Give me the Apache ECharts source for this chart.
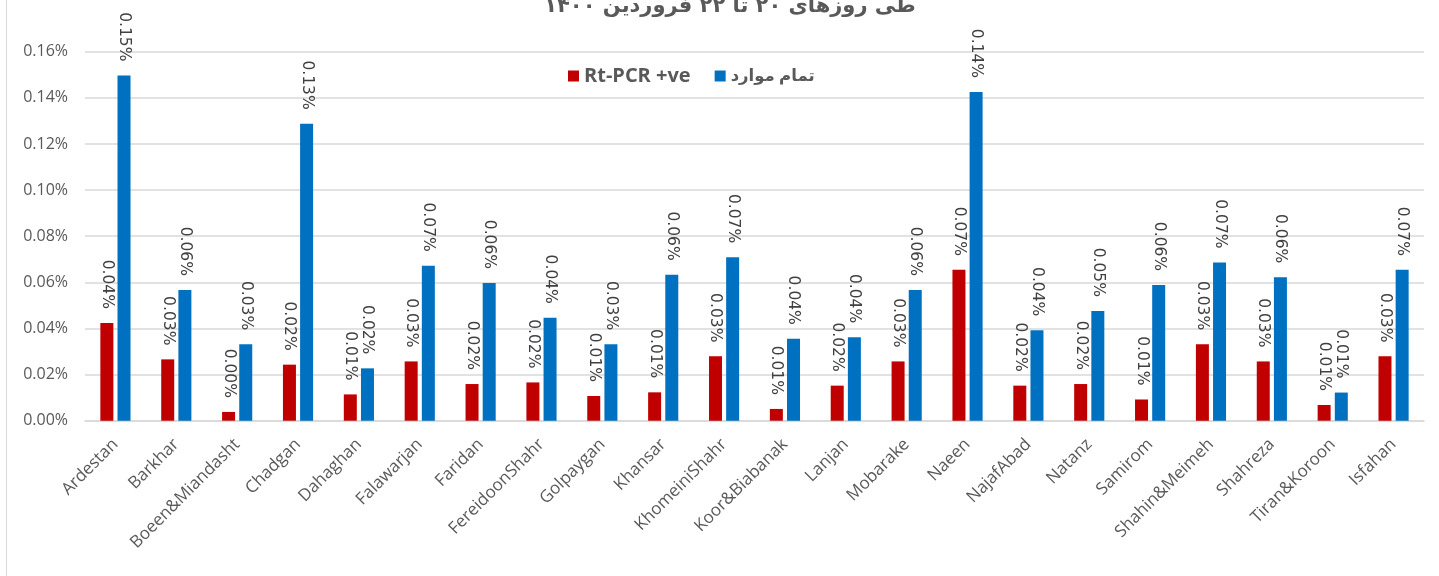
<!DOCTYPE html>
<html>
<head>
<meta charset="utf-8">
<script src="https://cdn.jsdelivr.net/npm/echarts@6/dist/echarts.min.js"></script>
<style>
  html, body { margin: 0; padding: 0; background: #ffffff; }
  #chart { width: 1439px; height: 576px; }
</style>
</head>
<body>
<div id="chart"></div>
<script>
// Counties of Isfahan province
const categories = ['Ardestan', 'Barkhar', 'Boeen&Miandasht', 'Chadgan', 'Dahaghan', 'Falawarjan',
  'Faridan', 'FereidoonShahr', 'Golpaygan', 'Khansar', 'KhomeiniShahr', 'Koor&Biabanak',
  'Lanjan', 'Mobarake', 'Naeen', 'NajafAbad', 'Natanz', 'Samirom', 'Shahin&Meimeh',
  'Shahreza', 'Tiran&Koroon', 'Isfahan'];

// Values in percent
const pcrPositive = [0.0424, 0.0266, 0.0038, 0.0243, 0.0114, 0.0257, 0.0159, 0.0166, 0.0107, 0.0123,
  0.0279, 0.0051, 0.0152, 0.0257, 0.0654, 0.0152, 0.0159, 0.0092, 0.0332, 0.0257, 0.0068, 0.0279];
const allCases = [0.1497, 0.0567, 0.0332, 0.1288, 0.0227, 0.0672, 0.0597, 0.0446, 0.0332, 0.0633,
  0.0709, 0.0355, 0.0362, 0.0567, 0.1425, 0.0392, 0.0476, 0.0588, 0.0686, 0.0622, 0.0122, 0.0654];

const seriesNames = ['Rt-PCR +ve', 'تمام موارد'];
const titleText = 'طی روزهای ۲۰ تا ۲۲ فروردین ۱۴۰۰';

const yMin = 0, yMax = 0.16, yStep = 0.02;

const pct = v => v.toFixed(2) + '%';
const textFont = '"Open Sans", "DejaVu Sans", sans-serif';

const barLabel = {
  show: true,
  position: 'top',
  distance: 14,
  rotate: -90,
  align: 'right',
  verticalAlign: 'middle',
  color: '#404040',
  fontFamily: '"DejaVu Sans", sans-serif',
  fontSize: 15.5,
  formatter: p => pct(p.value)
};

const chart = echarts.init(document.getElementById('chart'), null, { renderer: 'canvas' });
chart.setOption({
  animation: false,
  backgroundColor: '#ffffff',
  title: {
    text: titleText,
    left: 725,
    textAlign: 'center',
    top: -9,
    textStyle: { color: '#595959', fontSize: 21, fontWeight: 'bold', fontFamily: '"DejaVu Sans", sans-serif' }
  },
  legend: {
    left: 563,
    top: 61,
    itemWidth: 11,
    itemHeight: 11,
    itemGap: 24,
    icon: 'rect',
    textStyle: { color: '#595959', fontSize: 20, fontWeight: 'bold', fontFamily: textFont },
    data: [
      { name: seriesNames[0] },
      { name: seriesNames[1], textStyle: { fontSize: 16.5 } }
    ]
  },
  grid: { left: 85, right: 15, top: 51.7, bottom: 155.3, containLabel: false },
  xAxis: {
    type: 'category',
    data: categories,
    axisLine: { lineStyle: { color: '#d9d9d9', width: 1.5 } },
    axisTick: { show: false },
    axisLabel: {
      interval: 0,
      rotate: 45,
      margin: 21,
      color: '#595959',
      fontSize: 17,
      fontFamily: textFont
    }
  },
  yAxis: {
    type: 'value',
    min: yMin,
    max: yMax,
    interval: yStep,
    axisLine: { show: false },
    axisTick: { show: false },
    splitLine: { lineStyle: { color: '#d9d9d9', width: 1.5 } },
    axisLabel: {
      margin: 17,
      color: '#595959',
      fontSize: 16,
      fontFamily: textFont,
      formatter: v => pct(v)
    }
  },
  series: [
    {
      name: seriesNames[0],
      type: 'bar',
      data: pcrPositive,
      barWidth: 13,
      barGap: '32%',
      itemStyle: { color: '#C00000' },
      label: barLabel
    },
    {
      name: seriesNames[1],
      type: 'bar',
      data: allCases,
      barWidth: 13,
      barGap: '32%',
      itemStyle: { color: '#0070C0' },
      label: barLabel
    }
  ],
  graphic: [
    {
      type: 'line',
      shape: { x1: 6.5, y1: 0, x2: 6.5, y2: 576 },
      style: { stroke: '#d9d9d9', lineWidth: 1 },
      silent: true
    }
  ]
});
</script>
</body>
</html>
